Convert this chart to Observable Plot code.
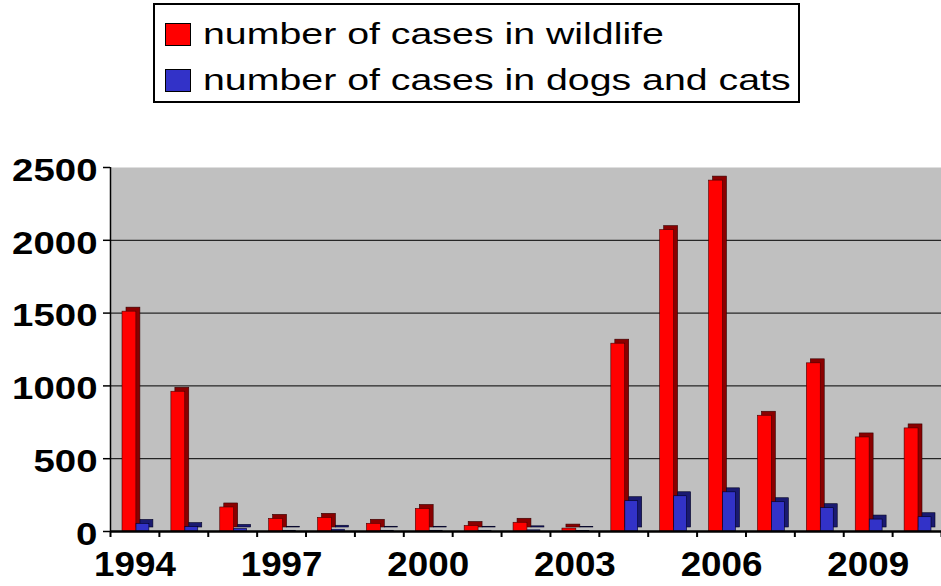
<!DOCTYPE html>
<html>
<head>
<meta charset="utf-8">
<script src="https://cdn.jsdelivr.net/npm/d3@7"></script>
<script src="https://cdn.jsdelivr.net/npm/@observablehq/plot@0.6"></script>
<style>
  html, body { margin: 0; padding: 0; background: #fff; }
  #wrap { width: 941px; position: relative; }
  #legend { position: relative; width: 941px; height: 110px; font-family: "Liberation Sans", Arial, sans-serif; }
  #legend .box { position: absolute; left: 153px; top: 3px; width: 643px; height: 96px; border: 2px solid #000; }
  #legend .item { position: absolute; left: 165px; height: 30px; }
  #legend .sw { position: absolute; left: 0; width: 24px; height: 21px; border: 1px solid #000; }
  #legend .lab { position: absolute; left: 38px; font-size: 30px; line-height: 30px; white-space: nowrap; transform: scaleX(1.31); transform-origin: left center; color: #000; }
</style>
</head>
<body>
<div id="wrap">
  <div id="legend"></div>
  <div id="chart"></div>
</div>
<script>
const years = [1994, 1995, 1996, 1997, 1998, 1999, 2000, 2001, 2002, 2003, 2004, 2005, 2006, 2007, 2008, 2009, 2010];
const wildlife = [1510, 960, 165, 87, 94, 53, 155, 38, 60, 20, 1290, 2070, 2410, 795, 1155, 646, 708];
const dogsCats = [52, 30, 18, 5, 12, 5, 5, 5, 8, 4, 208, 242, 269, 201, 160, 82, 98];
const seriesNames = ["number of cases in wildlife", "number of cases in dogs and cats"];
const seriesColors = ["#ff0000", "#3232c8"];
const sideColors = ["#8a0000", "#1a1a70"];
const yTicks = [0, 500, 1000, 1500, 2000, 2500];
const xLabelYears = [1994, 1997, 2000, 2003, 2006, 2009];

// Legend
const legend = document.getElementById("legend");
const box = document.createElement("div"); box.className = "box"; legend.appendChild(box);
const legendTops = [22, 68];
seriesNames.forEach((name, i) => {
  const item = document.createElement("div");
  item.className = "item";
  item.style.top = legendTops[i] + "px";
  const sw = document.createElement("div"); sw.className = "sw"; sw.style.background = seriesColors[i]; sw.style.top = "1px";
  const lab = document.createElement("div"); lab.className = "lab"; lab.textContent = name; lab.style.top = "-3px";
  item.appendChild(sw); item.appendChild(lab);
  legend.appendChild(item);
});

const data = years.map((year, i) => ({year, wild: wildlife[i], pets: dogsCats[i]}));
const boundaries = [years[0] - 0.5, ...years.map(y => y + 0.5)];

const depth = 4;
const chart = Plot.plot({
  width: 941,
  height: 476,
  marginTop: 57,
  marginBottom: 55,
  marginLeft: 110,
  marginRight: 0,
  style: {fontFamily: "'Liberation Sans', Arial, sans-serif", background: "#fff"},
  x: {type: "linear", domain: [years[0] - 0.5, years[years.length - 1] + 0.5]},
  y: {domain: [0, 2500]},
  marks: [
    Plot.frame({fill: "#c0c0c0", stroke: "none"}),
    Plot.ruleY(yTicks.filter(d => d > 0 && d < 2500), {stroke: "#000", strokeWidth: 1}),
    // wildlife bars: 3D side then front
    Plot.rectY(data, {x1: d => d.year - 0.5, x2: d => d.year + 0.5, y: "wild", insetLeft: 12, insetRight: 23, dx: depth, dy: -depth, fill: sideColors[0], stroke: "#300", strokeWidth: 0.6}),
    Plot.rectY(data, {x1: d => d.year - 0.5, x2: d => d.year + 0.5, y: "wild", insetLeft: 12, insetRight: 23, fill: seriesColors[0], stroke: "#400", strokeWidth: 0.6}),
    // dogs & cats bars
    Plot.rectY(data, {x1: d => d.year - 0.5, x2: d => d.year + 0.5, y: "pets", insetLeft: 26, insetRight: 10, dx: depth, dy: -depth, fill: sideColors[1], stroke: "#002", strokeWidth: 0.6}),
    Plot.rectY(data, {x1: d => d.year - 0.5, x2: d => d.year + 0.5, y: "pets", insetLeft: 26, insetRight: 10, fill: seriesColors[1], stroke: "#002", strokeWidth: 0.6}),
    Plot.ruleX([years[0] - 0.5], {stroke: "#000", strokeWidth: 1.5}),
    Plot.ruleY([0], {stroke: "#000", strokeWidth: 2.5}),
    Plot.axisY({ticks: yTicks, tickSize: 7, strokeWidth: 1.5, stroke: "#000", tickFormat: null, text: null}),
    Plot.axisY({ticks: yTicks, tickSize: 0, tickPadding: 13, dy: 3, tickFormat: d => String(d), fontSize: 32, fontWeight: "bold", color: "#000", label: null, className: "yax"}),
    Plot.axisX({ticks: boundaries, tickSize: 6, tickFormat: () => "", strokeWidth: 2, label: null}),
    Plot.axisX({ticks: xLabelYears, tickSize: 0, tickPadding: 20, tickFormat: d => String(d), fontSize: 35, fontWeight: "bold", color: "#000", label: null, className: "xax"})
  ]
});
document.getElementById("chart").appendChild(chart);

// Widen the axis labels horizontally as in the reference
function stretch(selector, ratio) {
  chart.querySelectorAll(selector + " text").forEach(t => {
    const w = t.getComputedTextLength();
    t.setAttribute("textLength", (w * ratio).toFixed(1));
    t.setAttribute("lengthAdjust", "spacingAndGlyphs");
  });
}
stretch(".yax", 1.2);
stretch(".xax", 1.05);
</script>
</body>
</html>
